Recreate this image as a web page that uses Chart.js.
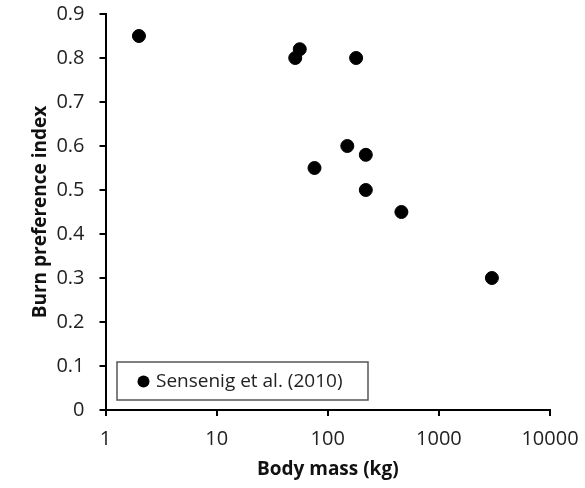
<!DOCTYPE html>
<html>
<head>
<meta charset="utf-8">
<script src="https://cdn.jsdelivr.net/npm/chart.js@4"></script>
<style>
  html, body { margin: 0; padding: 0; background: #fff; }
  #wrap { width: 585px; height: 488px; }
</style>
</head>
<body>
<div id="wrap"><canvas id="chart" width="585" height="488"></canvas></div>
<script>
// body mass (kg) and burn preference index
const bodyMass = [2, 56, 51, 180, 150, 220, 76, 220, 460, 3000];
const burnIndex = [0.85, 0.82, 0.80, 0.80, 0.60, 0.58, 0.55, 0.50, 0.45, 0.30];
const xTicks = [1, 10, 100, 1000, 10000];
const seriesLabel = "Sensenig et al. (2010)";

const points = bodyMass.map((m, i) => ({ x: m, y: burnIndex[i] }));
const font = "'Open Sans', 'DejaVu Sans', sans-serif";

// legend box sits inside the plot, bottom left
const boxLegend = {
  id: "boxLegend",
  afterDraw(chart) {
    const c = chart.ctx;
    c.save();
    c.strokeStyle = "#555";
    c.lineWidth = 1.5;
    c.fillStyle = "#fff";
    c.fillRect(117, 362, 251, 38);
    c.strokeRect(117, 362, 251, 38);
    c.fillStyle = "#000";
    c.beginPath();
    c.arc(143.5, 381.5, 6, 0, Math.PI * 2);
    c.fill();
    c.fillStyle = "#222";
    c.font = "19px " + font;
    c.textBaseline = "middle";
    c.fillText(seriesLabel, 156, 382);
    c.restore();
  },
};

new Chart(document.getElementById("chart"), {
  type: "scatter",
  data: {
    datasets: [
      {
        label: seriesLabel,
        data: points,
        backgroundColor: "#000",
        borderColor: "#000",
        pointRadius: 6.5,
        pointHoverRadius: 6.5,
      },
    ],
  },
  options: {
    responsive: false,
    animation: false,
    layout: { padding: { top: 14, right: 35, left: 0, bottom: 0 } },
    plugins: { legend: { display: false }, tooltip: { enabled: false } },
    scales: {
      x: {
        type: "logarithmic",
        min: 1,
        max: 10000,
        afterBuildTicks: (s) => {
          s.ticks = xTicks.map((v) => ({ value: v }));
        },
        afterFit: (s) => {
          s.height = 78;
          s.paddingLeft = 0;
          s.paddingRight = 0;
        },
        ticks: {
          callback: (v) => String(v),
          color: "#222",
          font: { family: font, size: 20 },
          padding: 11,
          maxRotation: 0,
          autoSkip: false,
        },
        grid: { drawOnChartArea: false, drawTicks: true, tickLength: 6, color: "#000", lineWidth: 2 },
        border: { color: "#000", width: 2 },
        title: {
          display: true,
          text: "Body mass (kg)",
          color: "#111",
          font: { family: font, size: 19, weight: "bold" },
          padding: { top: 0, bottom: 7 },
        },
      },
      y: {
        min: 0,
        max: 0.9,
        afterFit: (s) => {
          s.width = 105.5;
          s.paddingTop = 0;
          s.paddingBottom = 0;
        },
        ticks: {
          stepSize: 0.1,
          callback: (v) => (Math.round(v * 10) / 10).toString(),
          color: "#222",
          font: { family: font, size: 20 },
          padding: 15,
        },
        grid: { drawOnChartArea: false, drawTicks: true, tickLength: 6, color: "#000", lineWidth: 2 },
        border: { color: "#000", width: 2 },
        title: {
          display: true,
          text: "Burn preference index",
          color: "#111",
          font: { family: font, size: 19, weight: "bold" },
          padding: { top: 29, bottom: 0 },
        },
      },
    },
  },
  plugins: [boxLegend],
});
</script>
</body>
</html>
